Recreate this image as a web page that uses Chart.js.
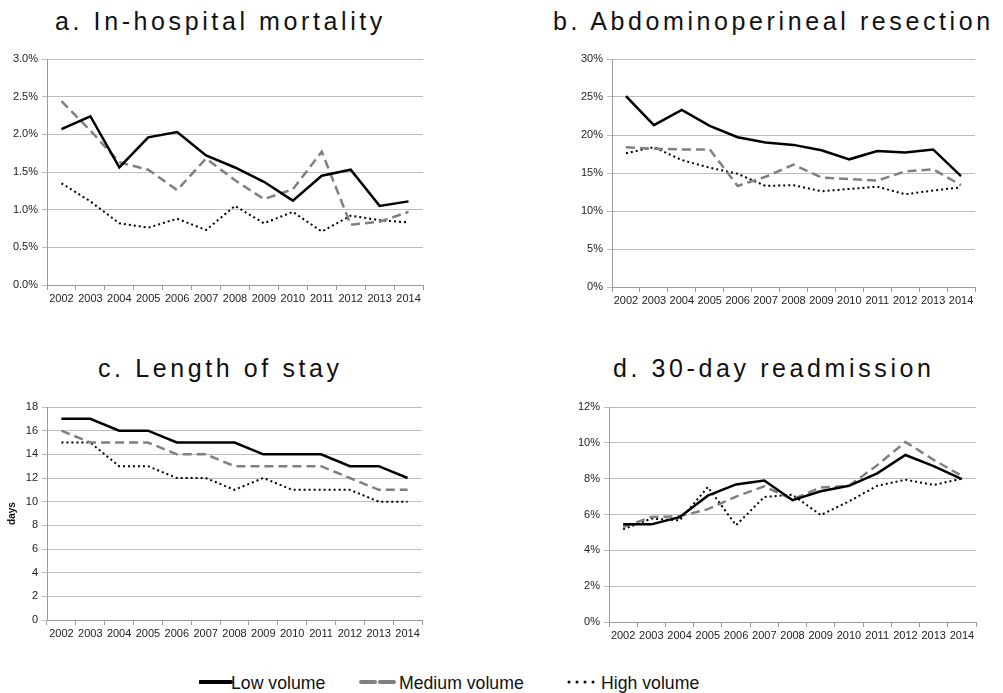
<!DOCTYPE html>
<html>
<head>
<meta charset="utf-8">
<script src="https://cdn.jsdelivr.net/npm/chart.js@4.4.1/dist/chart.umd.min.js"></script>
<style>
  body { margin: 0; background: #fff; width: 1003px; height: 693px; position: relative; overflow: hidden;
         font-family: "Liberation Sans", Arial, sans-serif; }
  canvas { position: absolute; }
  .title { position: absolute; font-size: 25px; line-height: 25px; letter-spacing: 3.6px; color: #111; white-space: nowrap; }
  .leg { position: absolute; top: 673px; font-size: 19px; line-height: 20px; color: #111; white-space: nowrap;
         transform: scaleX(0.93); transform-origin: left top; }
  svg { position: absolute; }
</style>
</head>
<body>

<div class="title" style="left:55px;top:9px">a. In-hospital mortality</div>
<div class="title" style="left:553px;top:9px">b. Abdominoperineal resection</div>
<div class="title" style="left:98px;top:356px">c. Length of stay</div>
<div class="title" style="left:613px;top:356px">d. 30-day readmission</div>

<canvas id="chartA" width="440" height="270" style="left:0;top:45px"></canvas>
<canvas id="chartB" width="443" height="270" style="left:560px;top:45px"></canvas>
<canvas id="chartC" width="440" height="245" style="left:0;top:395px"></canvas>
<canvas id="chartD" width="443" height="245" style="left:560px;top:395px"></canvas>

<svg width="34" height="10" style="left:199px;top:677px"><line x1="1" y1="5" x2="32" y2="5" stroke="#000" stroke-width="4" stroke-linecap="round"/></svg>
<div class="leg" style="left:231px">Low volume</div>
<svg width="40" height="10" style="left:359px;top:677px"><line x1="2" y1="5" x2="36" y2="5" stroke="#808080" stroke-width="4" stroke-dasharray="14,5" stroke-linecap="round"/></svg>
<div class="leg" style="left:399px">Medium volume</div>
<svg width="36" height="10" style="left:566px;top:677px"><line x1="3" y1="5" x2="33" y2="5" stroke="#000" stroke-width="3" stroke-dasharray="0,8" stroke-linecap="round"/></svg>
<div class="leg" style="left:601px">High volume</div>

<script>
const years = ['2002','2003','2004','2005','2006','2007','2008','2009','2010','2011','2012','2013','2014'];

// a. In-hospital mortality (%)
const mortLow  = [2.07, 2.24, 1.56, 1.96, 2.03, 1.72, 1.56, 1.37, 1.12, 1.45, 1.53, 1.05, 1.11];
const mortMed  = [2.44, 2.05, 1.63, 1.53, 1.26, 1.68, 1.39, 1.14, 1.27, 1.77, 0.80, 0.84, 0.97];
const mortHigh = [1.35, 1.11, 0.82, 0.76, 0.88, 0.73, 1.05, 0.82, 0.97, 0.71, 0.92, 0.86, 0.83];

// b. Abdominoperineal resection (%)
const aprLow  = [25.1, 21.3, 23.3, 21.2, 19.7, 19.0, 18.7, 18.0, 16.8, 17.9, 17.7, 18.1, 14.6];
const aprMed  = [18.4, 18.2, 18.1, 18.1, 13.3, 14.5, 16.1, 14.4, 14.2, 14.0, 15.2, 15.5, 13.4];
const aprHigh = [17.6, 18.4, 16.7, 15.7, 14.9, 13.3, 13.4, 12.6, 12.9, 13.2, 12.2, 12.7, 13.1];

// c. Length of stay (days)
const losLow  = [17, 17, 16, 16, 15, 15, 15, 14, 14, 14, 13, 13, 12];
const losMed  = [16, 15, 15, 15, 14, 14, 13, 13, 13, 13, 12, 11, 11];
const losHigh = [15, 15, 13, 13, 12, 12, 11, 12, 11, 11, 11, 10, 10];

// d. 30-day readmission (%)
const readLow  = [5.45, 5.45, 5.85, 7.05, 7.68, 7.90, 6.80, 7.30, 7.60, 8.30, 9.32, 8.70, 7.98];
const readMed  = [5.30, 5.86, 5.90, 6.30, 7.00, 7.57, 6.85, 7.50, 7.60, 8.75, 10.05, 9.05, 8.15];
const readHigh = [5.17, 5.77, 5.67, 7.53, 5.40, 6.98, 7.10, 5.97, 6.73, 7.60, 7.94, 7.65, 8.00];

const GRID = '#bdbdbd';
const AXIS = '#9a9a9a';
const TICK_FONT = { family: '"Liberation Sans", Arial, sans-serif', size: 11 };

function series(low, med, high) {
    return [
        { label: 'Low volume', data: low, borderColor: '#000', borderWidth: 2.5 },
        { label: 'Medium volume', data: med, borderColor: '#808080', borderWidth: 2.5, borderDash: [9, 5] },
        { label: 'High volume', data: high, borderColor: '#000', borderWidth: 2, borderDash: [2, 3] }
    ];
}

// box = canvas position on page, area = wanted plot area on page
function makeChart(id, box, area, datasets, yMax, yStep, fmt, yTitle) {
    new Chart(document.getElementById(id), {
        type: 'line',
        data: { labels: years, datasets },
        options: {
            responsive: false,
            animation: false,
            layout: { padding: { top: area.top - box.top, right: box.left + box.w - area.right, left: 0, bottom: 0 } },
            elements: { point: { radius: 0 }, line: { tension: 0, fill: false } },
            plugins: { legend: { display: false }, tooltip: { enabled: false } },
            scales: {
                x: {
                    offset: true,
                    grid: { offset: true, drawOnChartArea: false, drawTicks: true, tickLength: 5, color: AXIS },
                    border: { color: AXIS, width: 1 },
                    ticks: { color: '#222', font: TICK_FONT, padding: 2, maxRotation: 0, autoSkip: false },
                    afterFit: s => { s.height = box.top + box.h - area.bottom; }
                },
                y: {
                    min: 0, max: yMax,
                    grid: { color: GRID, tickLength: 5 },
                    border: { color: AXIS, width: 1 },
                    ticks: { stepSize: yStep, color: '#222', font: TICK_FONT, padding: 4, callback: fmt },
                    title: yTitle ? { display: true, text: yTitle, color: '#111',
                                      font: { family: '"Liberation Sans", Arial, sans-serif', size: 10, weight: 'bold' },
                                      padding: { top: 6, bottom: 0 } } : { display: false },
                    afterFit: s => { s.width = area.left - box.left; }
                }
            }
        }
    });
}

makeChart('chartA', { left: 0, top: 45, w: 440, h: 270 }, { left: 47, top: 59, right: 423, bottom: 285 },
    series(mortLow, mortMed, mortHigh), 3, 0.5, v => v.toFixed(1) + '%');
makeChart('chartB', { left: 560, top: 45, w: 443, h: 270 }, { left: 612, top: 59, right: 975, bottom: 287 },
    series(aprLow, aprMed, aprHigh), 30, 5, v => v + '%');
makeChart('chartC', { left: 0, top: 395, w: 440, h: 245 }, { left: 47, top: 407, right: 422, bottom: 620 },
    series(losLow, losMed, losHigh), 18, 2, v => v, 'days');
makeChart('chartD', { left: 560, top: 395, w: 443, h: 245 }, { left: 609, top: 407, right: 976, bottom: 622 },
    series(readLow, readMed, readHigh), 12, 2, v => v + '%');
</script>
</body>
</html>
